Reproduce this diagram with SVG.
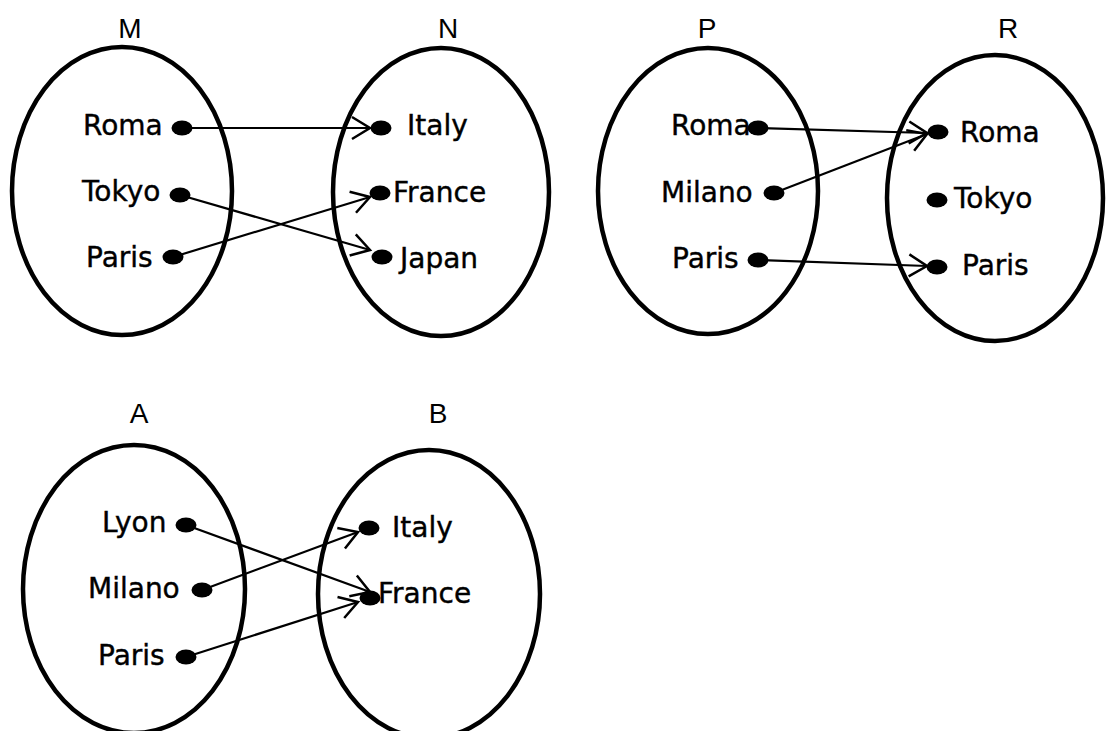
<svg xmlns="http://www.w3.org/2000/svg" width="1113" height="731" viewBox="0 0 1113 731">
  <style>
    .set { fill: none; stroke: #000; stroke-width: 4.5; }
    .title { font-family: "Liberation Sans", Arial, sans-serif; font-size: 28px; fill: #000; text-anchor: middle; }
    .item { font-family: "Comic Sans MS", "DejaVu Sans", sans-serif; font-size: 28px; fill: #000; stroke: #000; stroke-width: 0.4; }
    .dot { fill: #000; }
    .link { fill: none; stroke: #000; stroke-width: 2.2; marker-end: url(#head); }
  </style>
  <defs>
    <marker id="head" markerUnits="userSpaceOnUse" markerWidth="26" markerHeight="28" refX="21" refY="14" orient="auto" overflow="visible">
      <path d="M3,3 L21,14 L3,25" fill="none" stroke="#000" stroke-width="2.5" stroke-linejoin="miter"/>
    </marker>
  </defs>
  <rect width="1113" height="731" fill="#fff"/>

  <!-- Mapping M -> N -->
  <g id="set-M">
    <ellipse class="set" cx="122" cy="191" rx="110" ry="144"/>
    <text class="title" x="130" y="38">M</text>
    <text class="item" x="83" y="135">Roma</text>
    <text class="item" x="82" y="201">Tokyo</text>
    <text class="item" x="86" y="267">Paris</text>
    <ellipse class="dot" cx="182" cy="128" rx="10.5" ry="7.5"/>
    <ellipse class="dot" cx="180" cy="195" rx="10.5" ry="7.5"/>
    <ellipse class="dot" cx="173" cy="257" rx="10.5" ry="7.5"/>
  </g>
  <g id="set-N">
    <ellipse class="set" cx="441" cy="192" rx="108" ry="144"/>
    <text class="title" x="448" y="38">N</text>
    <text class="item" x="407" y="135">Italy</text>
    <text class="item" x="393" y="202">France</text>
    <text class="item" x="400" y="268">Japan</text>
    <ellipse class="dot" cx="381" cy="128" rx="10.5" ry="7.5"/>
    <ellipse class="dot" cx="380" cy="193" rx="10.5" ry="7.5"/>
    <ellipse class="dot" cx="382" cy="257" rx="10.5" ry="7.5"/>
  </g>

  <!-- Mapping P -> R -->
  <g id="set-P">
    <ellipse class="set" cx="708" cy="191" rx="110" ry="143"/>
    <text class="title" x="707" y="38">P</text>
    <text class="item" x="671" y="135">Roma</text>
    <text class="item" x="661" y="202">Milano</text>
    <text class="item" x="672" y="268">Paris</text>
    <ellipse class="dot" cx="758" cy="128" rx="10.5" ry="7.5"/>
    <ellipse class="dot" cx="774" cy="193" rx="10.5" ry="7.5"/>
    <ellipse class="dot" cx="758" cy="260" rx="10.5" ry="7.5"/>
  </g>
  <g id="set-R">
    <ellipse class="set" cx="995" cy="198" rx="108" ry="143"/>
    <text class="title" x="1008" y="38">R</text>
    <text class="item" x="960" y="142">Roma</text>
    <text class="item" x="954" y="208">Tokyo</text>
    <text class="item" x="962" y="275">Paris</text>
    <ellipse class="dot" cx="938" cy="132" rx="10.5" ry="7.5"/>
    <ellipse class="dot" cx="937" cy="200" rx="10.5" ry="7.5"/>
    <ellipse class="dot" cx="937" cy="267" rx="10.5" ry="7.5"/>
  </g>

  <!-- Mapping A -> B -->
  <g id="set-A">
    <ellipse class="set" cx="134" cy="589" rx="111" ry="144"/>
    <text class="title" x="139" y="423">A</text>
    <text class="item" x="102" y="532">Lyon</text>
    <text class="item" x="88" y="598">Milano</text>
    <text class="item" x="98" y="665">Paris</text>
    <ellipse class="dot" cx="186" cy="525" rx="10.5" ry="7.5"/>
    <ellipse class="dot" cx="202" cy="590" rx="10.5" ry="7.5"/>
    <ellipse class="dot" cx="186" cy="657" rx="10.5" ry="7.5"/>
  </g>
  <g id="set-B">
    <ellipse class="set" cx="429" cy="594" rx="111" ry="144"/>
    <text class="title" x="438" y="423">B</text>
    <text class="item" x="392" y="537">Italy</text>
    <text class="item" x="378" y="603">France</text>
    <ellipse class="dot" cx="369" cy="528" rx="10.5" ry="7.5"/>
    <ellipse class="dot" cx="370" cy="598" rx="10.5" ry="7.5"/>
  </g>

  <!-- Arrows between elements -->
  <g id="connectors">
    <line class="link" x1="182" y1="128" x2="370" y2="128"/>
    <line class="link" x1="180" y1="195" x2="370" y2="250"/>
    <line class="link" x1="173" y1="257" x2="370" y2="197"/>

    <line class="link" x1="758" y1="128" x2="927" y2="133"/>
    <line class="link" x1="774" y1="193" x2="927" y2="134"/>
    <line class="link" x1="758" y1="260" x2="927" y2="266"/>

    <line class="link" x1="186" y1="525" x2="370" y2="592"/>
    <line class="link" x1="202" y1="590" x2="358" y2="532"/>
    <line class="link" x1="186" y1="657" x2="358" y2="602"/>
  </g>
</svg>
